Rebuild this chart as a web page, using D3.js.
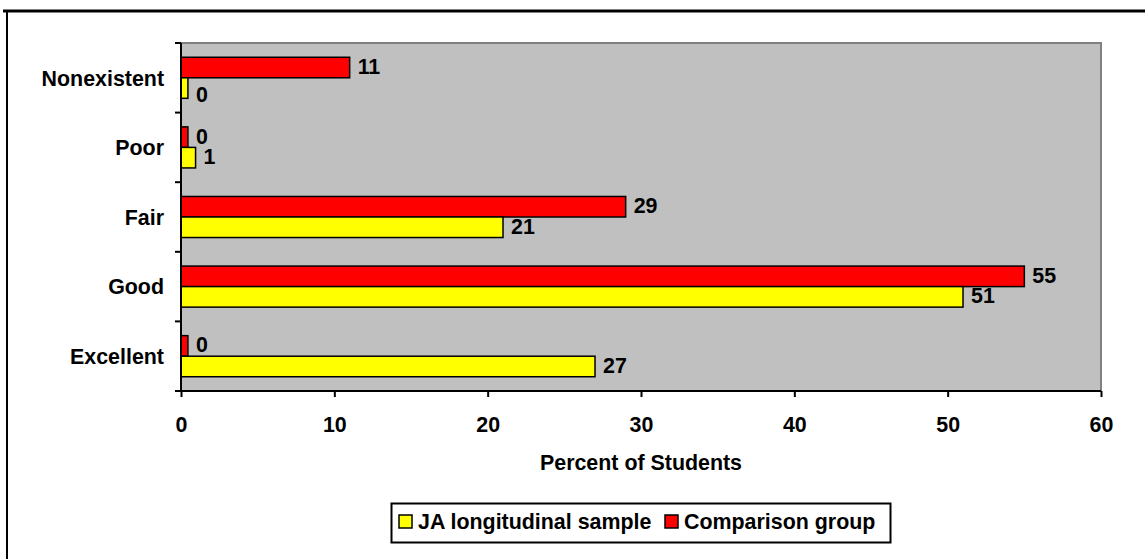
<!DOCTYPE html>
<html><head><meta charset="utf-8">
<script src="https://cdn.jsdelivr.net/npm/d3@7"></script>
<style>
html,body{margin:0;padding:0;background:#fff;}
svg{display:block;font-family:"Liberation Sans",Arial,sans-serif;font-weight:bold;}
</style></head>
<body>
<svg id="chart" width="1145" height="559"></svg>
<script>
const categories = ["Nonexistent", "Poor", "Fair", "Good", "Excellent"];
const seriesNames = ["Comparison group", "JA longitudinal sample"];
const comparisonValues = [11, 0.45, 29, 55, 0.45];
const jaValues = [0.45, 0.95, 21, 51, 27];
const xTicks = [0, 10, 20, 30, 40, 50, 60];
const legendOrder = ["JA longitudinal sample", "Comparison group"];
const colors = {"Comparison group": "#FF0000", "JA longitudinal sample": "#FFFF00"};

const FS = 21.4;
const svg = d3.select("#chart");
const pL = 181, pR = 1101, pT = 43, pB = 391;

// outer frame (cropped)
svg.append("line").attr("x1", 3).attr("x2", 1145).attr("y1", 11).attr("y2", 11)
  .attr("stroke", "#000").attr("stroke-width", 3);
svg.append("line").attr("x1", 7).attr("x2", 7).attr("y1", 10).attr("y2", 559)
  .attr("stroke", "#000").attr("stroke-width", 2);

const x = d3.scaleLinear().domain([0, 60]).range([pL, pR]);
const y = d3.scaleBand().domain(categories).range([pT, pB])
  .paddingInner(0.41).paddingOuter(0.205);
const ySub = d3.scaleBand().domain(seriesNames).range([0, y.bandwidth()]);

// plot area
svg.append("rect").attr("x", pL).attr("y", pT).attr("width", pR - pL).attr("height", pB - pT)
  .attr("fill", "#C0C0C0");
svg.append("path").attr("d", `M${pL},${pT}H${pR}V${pB}`)
  .attr("fill", "none").attr("stroke", "#808080").attr("stroke-width", 2);

const rows = categories.map((c, i) => ({
  cat: c,
  vals: [
    {cat: c, s: "Comparison group", v: comparisonValues[i]},
    {cat: c, s: "JA longitudinal sample", v: jaValues[i]}
  ]
}));

const g = svg.append("g");
const grp = g.selectAll("g.cat").data(rows).join("g")
  .attr("transform", d => `translate(0,${y(d.cat)})`);
grp.selectAll("rect").data(d => d.vals).join("rect")
  .attr("x", x(0))
  .attr("y", d => ySub(d.s))
  .attr("width", d => x(d.v) - x(0))
  .attr("height", ySub.bandwidth())
  .attr("fill", d => colors[d.s])
  .attr("stroke", "#000").attr("stroke-width", 1.5);
grp.selectAll("text").data(d => d.vals).join("text")
  .attr("x", d => x(d.v) + 8)
  .attr("y", d => ySub(d.s) + ySub.bandwidth() / 2 + 6.5 +
    (d.cat === categories[0] && d.s === "JA longitudinal sample" ? 7 : 0))
  .attr("font-size", FS).attr("fill", "#000")
  .text(d => d3.format(".0f")(d.v));

// x axis
const xAxis = svg.append("g").attr("transform", `translate(0,${pB})`)
  .call(d3.axisBottom(x).tickValues(xTicks).tickSize(6).tickPadding(20).tickFormat(d3.format("d")));
xAxis.select(".domain").attr("stroke", "#000").attr("stroke-width", 2).attr("d", `M${pL},0H${pR}`);
xAxis.selectAll(".tick line").attr("stroke", "#000").attr("stroke-width", 2);
xAxis.selectAll(".tick text").attr("font-size", FS).attr("font-family", "Liberation Sans, Arial, sans-serif")
  .attr("font-weight", "bold").attr("fill", "#000").attr("dy", null).attr("y", 41);

// y axis
const yAxis = svg.append("g").attr("transform", `translate(${pL},0)`)
  .call(d3.axisLeft(y).tickSize(0).tickPadding(17));
yAxis.select(".domain").attr("stroke", "#000").attr("stroke-width", 2).attr("d", `M0,${pT}V${pB+1}`);
yAxis.selectAll(".tick text").attr("font-size", FS).attr("font-family", "Liberation Sans, Arial, sans-serif")
  .attr("font-weight", "bold").attr("fill", "#000").attr("dy", "0.36em");
// boundary ticks between categories
const bounds = categories.map(c => y(c) - y.step() * y.paddingInner() / 2).concat([pB]);
bounds[0] = pT;
yAxis.selectAll("line.bound").data(bounds).join("line").attr("class", "bound")
  .attr("x1", -6).attr("x2", 0).attr("y1", d => d).attr("y2", d => d)
  .attr("stroke", "#000").attr("stroke-width", 2);

// axis title
svg.append("text").attr("x", (pL + pR) / 2).attr("y", 470).attr("text-anchor", "middle")
  .attr("font-size", FS).text("Percent of Students");

// legend
const lg = svg.append("g");
lg.append("rect").attr("x", 391.5).attr("y", 503.5).attr("width", 499).attr("height", 39)
  .attr("fill", "#fff").attr("stroke", "#000").attr("stroke-width", 2);
const legendX = [399, 665];
legendOrder.forEach((s, i) => {
  lg.append("rect").attr("x", legendX[i]).attr("y", 515).attr("width", 13).attr("height", 13)
    .attr("fill", colors[s]).attr("stroke", "#000").attr("stroke-width", 1.5);
  lg.append("text").attr("x", legendX[i] + 19).attr("y", 529).attr("font-size", FS).text(s);
});
</script>
</body></html>
